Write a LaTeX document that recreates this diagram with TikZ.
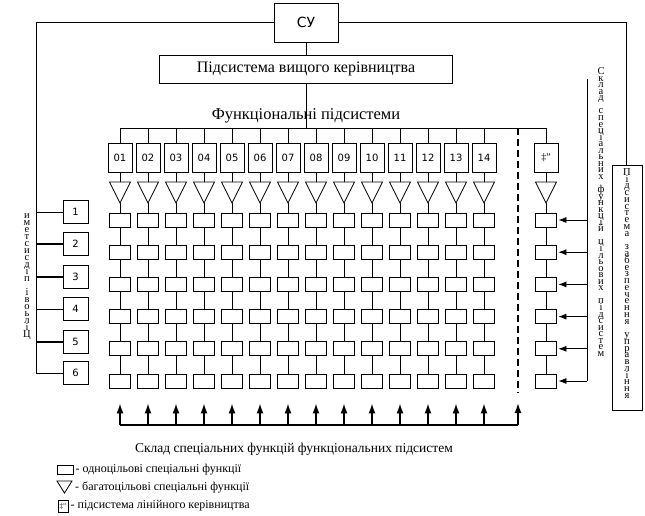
\documentclass[tikz,border=0pt]{standalone}
\usepackage{fontspec}
\setmainfont{Liberation Serif}
\newfontfamily\numfont{DejaVu Sans}
\usetikzlibrary{arrows.meta,positioning}

\tikzset{
  blk/.style={draw,line width=0.8pt,inner sep=0pt},
  numbox/.style={blk,minimum width=24pt,minimum height=29pt,font=\numfont\fontsize{10}{12}\selectfont},
  cell/.style={blk,minimum width=21pt,minimum height=14pt},
  sidebox/.style={blk,minimum width=25pt,minimum height=23pt,font=\numfont\fontsize{10}{12}\selectfont},
  vcap/.style={align=center,inner sep=0pt,execute at begin node={\lineskiplimit=-100pt}},
  legtext/.style={inner sep=1pt,font=\fontsize{12}{13}\selectfont},
  wire/.style={line width=0.8pt},
  feed/.style={wire,-{Latex[length=8pt,width=6pt]},shorten >=1.5pt},
  lift/.style={line width=1.5pt,-{Latex[length=10pt,width=7pt]}},
  divider/.style={line width=1.6pt,dash pattern=on 7pt off 4pt}
}

\begin{document}
\begin{tikzpicture}[x=1pt,y=-1pt]
\useasboundingbox (0,0) rectangle (645,516);

% top of the structure
\node[blk,minimum width=64pt,minimum height=39pt,font=\numfont\fontsize{14}{16}\selectfont] (su) at (306,22.5) {СУ};
\node[blk,minimum width=293pt,minimum height=28pt,font=\fontsize{16}{18}\selectfont] (top) at (306,69) {Підсистема вищого керівництва};
\node[font=\fontsize{16.5}{18}\selectfont] (fs) at (306,116) {Функціональні підсистеми};
\coordinate (lt) at (36,22.5);
\coordinate (rt) at (626,22.5);
\coordinate (bus) at (306,128);
\node[blk,minimum width=30pt,minimum height=245pt] (pz) at (627,287.5) {};

\draw[wire] (su.south) -- (top.north);
\draw[wire] (top.south) -- (bus);
\draw[wire] (lt) -- (su.west);
\draw[wire] (su.east) -- (rt) -- (rt |- pz.north);

% functional subsystems + line management
\foreach \n [count=\i] in {01,02,03,04,05,06,07,08,09,10,11,12,13,14,{\rmfamily ‡”}} {
  \pgfmathsetmacro\cx{\i<15 ? 92+28*\i : 546}
  \coordinate (b\i) at (\cx,128);
  \node[numbox] (f\i) at (\cx,157.5) {\n};
  \coordinate (ta\i) at (\cx,182);
  \coordinate (tb\i) at (\cx,203);
  \draw[wire] (ta\i) ++(-10.5,0) -- ++(21,0) -- (tb\i) -- cycle;
  \foreach \k in {1,...,6}
    \node[cell] (c\i-\k) at (\cx,{220+32.2*(\k-1)}) {};
  \draw[wire] (b\i) -- (f\i) -- (ta\i);
  \draw[wire] (tb\i) -- (c\i-1);
  \foreach \k [evaluate=\k as \kn using int(\k+1)] in {1,...,5}
    \draw[wire] (c\i-\k) -- (c\i-\kn);
}
\draw[wire] (b1) -- (b15);

\coordinate (d1) at (518,128);
\coordinate (d2) at (518,393);
\draw[divider] (d1) -- (d2);

% inputs from the right
\coordinate (rv) at (587,79);
\draw[wire] (rv) -- (rv |- c15-6);
\foreach \k in {1,...,6}
  \draw[feed] (rv |- c15-\k) -- (c15-\k.east);

% target subsystems on the left
\foreach \y [count=\k] in {212,244,277,309,342,373}
  \node[sidebox] (s\k) at (75.5,\y) {\k};
\draw[wire] (lt) -- (lt |- s6) -- (s6.west);
\foreach \k in {1,4}
  \draw[wire] (lt |- s\k) -- (s\k.west);
\foreach \k in {2,3,5}
  \draw[line width=1.6pt] (lt |- s\k) -- (s\k.west);

% special functions from below
\foreach \i in {1,...,14}
  \coordinate (u\i) at ({92+28*\i},425);
\coordinate (u15) at (518,425);
\draw[line width=1.5pt] (u1) -- (u15);
\foreach \i in {1,...,14}
  \draw[lift,shorten >=15pt] (u\i) -- (c\i-6);
\draw[lift,shorten >=10pt] (u15) -- (d2);
\node[font=\fontsize{13.5}{15}\selectfont] (sk) at (294,449) {Склад спеціальних функцій функціональних підсистем};

% vertical captions
\node[vcap,font=\fontsize{10.5}{7}\selectfont] (lcap) at (27,277)
  {и\\м\\е\\т\\с\\и\\с\\д\\і\\п\\~\\і\\в\\о\\ь\\л\\і\\Ц};
\node[vcap,font=\fontsize{10.5}{6.55}\selectfont] (rcap) at (601,212)
  {С\\к\\л\\а\\д\\~\\с\\п\\е\\ц\\і\\а\\л\\ь\\н\\и\\х\\~\\ф\\у\\н\\к\\ц\\і\\й\\~\\ц\\і\\л\\ь\\о\\в\\и\\х\\~\\п\\і\\д\\с\\и\\с\\т\\е\\м};
\node[vcap,font=\fontsize{10.5}{6.76}\selectfont] (pcap) at (627,283.5)
  {П\\і\\д\\с\\и\\с\\т\\е\\м\\а\\~\\з\\а\\б\\е\\з\\п\\е\\ч\\е\\н\\н\\я\\~\\у\\п\\р\\а\\в\\л\\і\\н\\н\\я};

% legend
\node[blk,minimum width=16pt,minimum height=9pt] (lg1) at (65,470) {};
\node[legtext,right=1pt of lg1] (lt1) {- одноцільові спеціальні функції};
\coordinate (lg2) at (64.5,481);
\draw[wire] (lg2) ++(-7.5,0) -- ++(15,0) -- ++(-7.5,12) -- cycle;
\node[legtext,anchor=west] (lt2) at (74,487) {- багатоцільові спеціальні функції};
\node[blk,minimum width=10pt,minimum height=12pt,font=\fontsize{7}{8}\selectfont] (lg3) at (63,506) {‡”};
\node[legtext,right=1pt of lg3] (lt3) {- підсистема лінійного керівництва};
\end{tikzpicture}
\end{document}
